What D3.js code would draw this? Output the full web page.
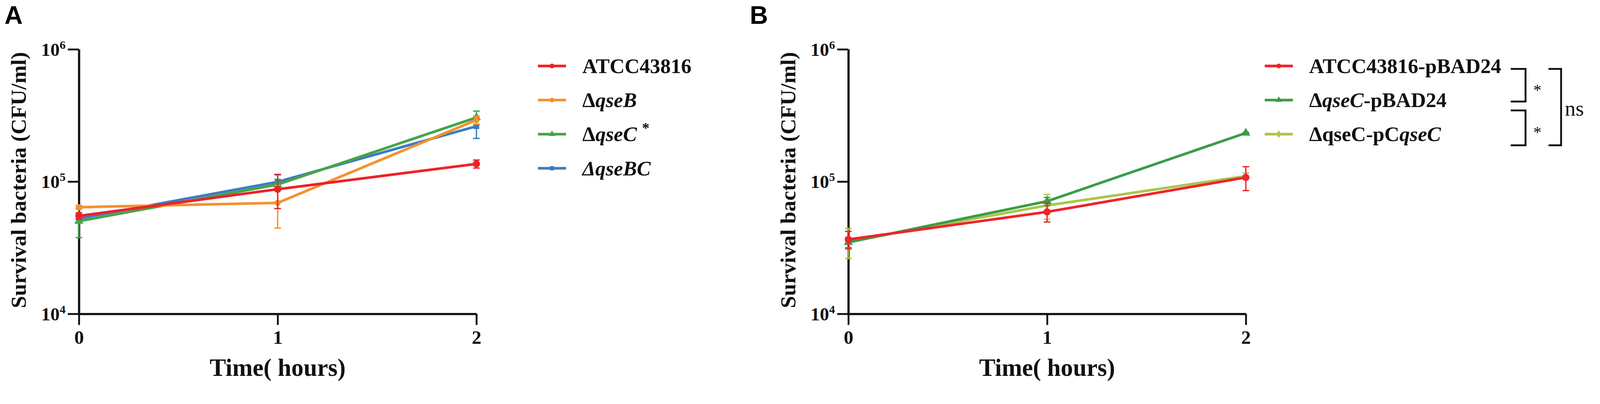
<!DOCTYPE html>
<html>
<head>
    <meta charset="utf-8">
    <title>Survival bacteria</title>
    <script src="https://d3js.org/d3.v7.min.js"></script>
    <style>
        html, body{ margin:0; padding:0; background:#fff; overflow:hidden; }
        svg{ display:block; }
        text{ font-family:"Liberation Serif","Times New Roman",serif; font-weight:bold; }
    </style>
</head>
<body>
<script>
    /* data */
    var hours = [0, 1, 2];
    var yTicks = [1e4, 1e5, 1e6];
    var yTickExp = ["4", "5", "6"];

    /* panel A */
    var namesA = ["ATCC43816", "ΔqseB", "ΔqseC", "ΔqseBC"];
    var atcc = [55000, 87500, 136000];
    var atccSd = [3000, 25000, 9500];
    var qseB = [64000, 69000, 292000];
    var qseBSd = [2000, 24500, 20000];
    var qseC = [50200, 95000, 305000];
    var qseCSd = [12500, 9000, 36000];
    var qseBC = [52600, 99500, 262000];
    var qseBCSd = [3000, 14000, 50000];

    /* panel B */
    var namesB = ["ATCC43816-pBAD24", "ΔqseC-pBAD24", "ΔqseC-pCqseC"];
    var atccP = [36500, 59000, 107500];
    var atccPSd = [5500, 9500, 22000];
    var qseCP = [34700, 71000, 233000];
    var qseCPSd = [3000, 5000, 2000];
    var comp = [35200, 66000, 110000];
    var compSd = [9000, 14000, 6000];

    var W = 4319, H = 1034;
    var svg = d3.select("body").append("svg")
        .attr("viewBox", "0 0 " + W + " " + H)
        .attr("width", "100%")
        .attr("preserveAspectRatio", "xMinYMin meet");

    // label pieces: [text, italic]
    var rich = {
        "ATCC43816": [["ATCC43816", 0]],
        "ΔqseB": [["Δ", 0], ["qseB", 1]],
        "ΔqseC": [["Δ", 0], ["qseC", 1]],
        "ΔqseBC": [["ΔqseBC", 1]],
        "ATCC43816-pBAD24": [["ATCC43816-pBAD24", 0]],
        "ΔqseC-pBAD24": [["Δ", 0], ["qseC", 1], ["-pBAD24", 0]],
        "ΔqseC-pCqseC": [["ΔqseC-pC", 0], ["qseC", 1]]
    };

    var panelA = {
        letter: "A", letterX: 12, left: 213,
        legendX: 1452,
        series: [
            {name: namesA[3], v: qseBC, sd: qseBCSd, color: "#3d7cc4", shape: d3.symbolSquare, size: 230, legend: 3},
            {name: namesA[2], v: qseC, sd: qseCSd, color: "#44a547", shape: d3.symbolTriangle, size: 260, legend: 2},
            {name: namesA[1], v: qseB, sd: qseBSd, color: "#f3922f", shape: d3.symbolCircle, size: 220, legend: 1},
            {name: namesA[0], v: atcc, sd: atccSd, color: "#ee2128", shape: d3.symbolCircle, size: 300, legend: 0}
        ]
    };
    var panelB = {
        letter: "B", letterX: 2024, left: 2290,
        legendX: 3414,
        series: [
            {name: namesB[2], v: comp, sd: compSd, color: "#a9c64c", shape: d3.symbolDiamond, size: 170, legend: 2},
            {name: namesB[1], v: qseCP, sd: qseCPSd, color: "#3c9c45", shape: d3.symbolTriangle, size: 260, legend: 1},
            {name: namesB[0], v: atccP, sd: atccPSd, color: "#f0242a", shape: d3.symbolCircle, size: 300, legend: 0}
        ]
    };

    drawPanel(panelA);
    drawPanel(panelB);
    drawBrackets();

    function drawPanel(p){
        var g = svg.append("g");
        var x = d3.scaleLinear().domain([0, 2]).range([p.left, p.left + 1073]);
        var y = d3.scaleLog().domain([1e4, 1e6]).range([847, 133]);

        // panel letter
        g.append("text").attr("x", p.letterX).attr("y", 64)
            .style("font-family", "'Liberation Sans', Arial, sans-serif")
            .attr("font-size", 68).text(p.letter);

        // axes
        var xAxis = g.append("g").attr("transform", "translate(0,847)")
            .call(d3.axisBottom(x).tickValues(hours).tickSize(30).tickSizeOuter(0).tickFormat(d3.format("d")));
        var yAxis = g.append("g").attr("transform", "translate(" + p.left + ",0)")
            .call(d3.axisLeft(y).tickValues(yTicks).tickSize(30).tickSizeOuter(0));
        [xAxis, yAxis].forEach(function(a){
            a.select(".domain").attr("stroke", "#111").attr("stroke-width", 6);
            a.selectAll(".tick line").attr("stroke", "#111").attr("stroke-width", 5);
        });
        xAxis.selectAll(".tick text").attr("font-size", 52).attr("fill", "#111")
            .attr("y", 44).attr("dy", "0.71em");
        yAxis.selectAll(".tick text").each(function(d, i){
            var t = d3.select(this).text("").attr("font-size", 50).attr("fill", "#111")
                .attr("x", -36).attr("dy", "0.34em");
            t.append("tspan").text("10");
            t.append("tspan").attr("font-size", 32).attr("dy", -19).text(yTickExp[i]);
        });

        // axis titles
        g.append("text").attr("x", (x.range()[0] + x.range()[1]) / 2).attr("y", 1014)
            .attr("text-anchor", "middle").attr("font-size", 66).attr("fill", "#111")
            .text("Time( hours)");
        g.append("text").attr("transform", "translate(" + (p.left - 143) + ",486) rotate(-90)")
            .attr("text-anchor", "middle").attr("font-size", 59).attr("fill", "#111")
            .text("Survival bacteria (CFU/ml)");

        var line = d3.line().x(function(d, i){ return x(hours[i]); }).y(function(d){ return y(d); });

        p.series.forEach(function(s){
            var sg = g.append("g");
            // error bars
            s.v.forEach(function(v, i){
                var hi = y(v + s.sd[i]), lo = y(Math.max(v - s.sd[i], 1e4)), cx = x(hours[i]);
                sg.append("line").attr("x1", cx).attr("x2", cx).attr("y1", hi).attr("y2", lo)
                    .attr("stroke", s.color).attr("stroke-width", 3.5);
                [hi, lo].forEach(function(yy){
                    sg.append("line").attr("x1", cx - 9).attr("x2", cx + 9).attr("y1", yy).attr("y2", yy)
                        .attr("stroke", s.color).attr("stroke-width", 3.5);
                });
            });
            sg.append("path").datum(s.v).attr("d", line).attr("fill", "none")
                .attr("stroke", s.color).attr("stroke-width", 7);
            sg.selectAll(".pt").data(s.v).enter().append("path")
                .attr("transform", function(d, i){ return "translate(" + x(hours[i]) + "," + y(d) + ")"; })
                .attr("d", d3.symbol().type(s.shape).size(s.size)).attr("fill", s.color);

            // legend row
            var ly = 178 + s.legend * 92;
            var lg = g.append("g");
            lg.append("line").attr("x1", p.legendX).attr("x2", p.legendX + 76).attr("y1", ly).attr("y2", ly)
                .attr("stroke", s.color).attr("stroke-width", 7);
            lg.append("path").attr("transform", "translate(" + (p.legendX + 38) + "," + ly + ")")
                .attr("d", d3.symbol().type(s.shape).size(130)).attr("fill", s.color);
            var t = lg.append("text").attr("x", p.legendX + 120).attr("y", ly + 19)
                .attr("font-size", 56).attr("fill", "#111");
            rich[s.name].forEach(function(part){
                t.append("tspan").text(part[0]).style("font-style", part[1] ? "italic" : "normal");
            });
            if (s.name === "ΔqseC") {
                t.append("tspan").attr("dx", 14).attr("dy", -22).attr("font-size", 40).text("*");
            }
        });
    }

    function drawBrackets(){
        var g = svg.append("g").attr("fill", "none").attr("stroke", "#111").attr("stroke-width", 5);
        // inner brackets
        g.append("path").attr("d", "M4078,186H4118V274H4078");
        g.append("path").attr("d", "M4078,298H4118V392H4078");
        // outer bracket
        g.append("path").attr("d", "M4180,186H4214V392H4180");
        var tg = svg.append("g").attr("fill", "#111");
        tg.append("text").attr("x", 4150).attr("y", 258).attr("text-anchor", "middle")
            .attr("font-size", 44).style("font-weight", "normal").text("*");
        tg.append("text").attr("x", 4150).attr("y", 372).attr("text-anchor", "middle")
            .attr("font-size", 44).style("font-weight", "normal").text("*");
        tg.append("text").attr("x", 4224).attr("y", 312)
            .attr("font-size", 58).style("font-weight", "normal").text("ns");
    }
</script>
</body>
</html>
